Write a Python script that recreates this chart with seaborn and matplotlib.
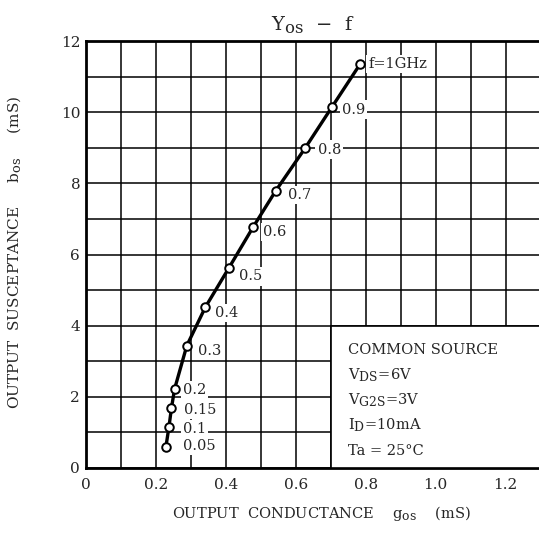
import numpy as np
import pandas as pd
import seaborn as sns
import matplotlib.pyplot as plt
import matplotlib._mathtext as mathtext_mod
from matplotlib.patches import Rectangle

# values
freq_labels = ["f=1GHz", "0.9", "0.8", "0.7", "0.6", "0.5", "0.4", "0.3", "0.2", "0.15", "0.1", "0.05"]
g_os = [0.784, 0.704, 0.627, 0.543, 0.479, 0.409, 0.342, 0.289, 0.254, 0.245, 0.238, 0.229]
b_os = [11.35, 10.15, 8.99, 7.79, 6.78, 5.62, 4.52, 3.44, 2.22, 1.68, 1.16, 0.58]
conditions = ["COMMON SOURCE", r"V$_{DS}$=6V", r"V$_{G2S}$=3V",
              r"I$_{D}$=10mA", "Ta = 25°C"]

# label offsets in points (dx, dy), only for placement
label_offsets = [(6, 0), (7, -2), (9, -1), (9, -3), (7, -4), (7, -6), (7, -4), (8, -4),
                 (6, -1), (9, -1), (10, -2), (12, 1)]

df = pd.DataFrame({"f": freq_labels, "g": g_os, "b": b_os})

# subscripts in the original are printed almost full size
mathtext_mod.SHRINK_FACTOR = 0.85

sns.set_style("white")
plt.rcParams["font.family"] = ["DejaVu Serif"]
plt.rcParams["mathtext.default"] = "regular"
plt.rcParams["mathtext.fontset"] = "dejavuserif"

fig = plt.figure(figsize=(5.39, 5.33), dpi=100)
ax = fig.add_axes([0.159, 0.122, 0.844, 0.801])

sns.lineplot(data=df, x="g", y="b", sort=False, color="black", lw=2.4, ax=ax, zorder=4)
sns.scatterplot(data=df, x="g", y="b", color="white", edgecolor="black", linewidth=1.4,
                s=38, ax=ax, zorder=5)

for (lab, gx, by), (dx, dy) in zip(zip(freq_labels, g_os, b_os), label_offsets):
    ax.annotate(lab, (gx, by), xytext=(dx, dy), textcoords="offset points",
                ha="left", va="center", fontsize=10.5, zorder=6,
                bbox=dict(boxstyle="square,pad=0.15", fc="white", ec="none"))

# condition box
ax.add_patch(Rectangle((0.7, 0), 0.6, 4, facecolor="white", edgecolor="black", lw=1.2, zorder=3))
for i, line in enumerate(conditions):
    ax.text(0.749, 3.2 - i * 0.71, line, fontsize=10.5, va="baseline", ha="left", zorder=6)

ax.set_xlim(0, 1.3)
ax.set_ylim(0, 12)
ax.set_xticks(np.arange(0, 1.21, 0.2))
ax.set_xticklabels(["0", "0.2", "0.4", "0.6", "0.8", "1.0", "1.2"])
ax.set_yticks(np.arange(0, 13, 2))
ax.set_xticks(np.arange(0, 1.31, 0.1), minor=True)
ax.set_yticks(np.arange(0, 13, 1), minor=True)
ax.grid(which="both", color="black", lw=1.1)
ax.tick_params(which="both", length=0, labelsize=11)
ax.tick_params(axis="x", pad=7)
ax.tick_params(axis="y", pad=4)
for sp in ax.spines.values():
    sp.set_color("black")
    sp.set_linewidth(2)

ax.set_title(r"Y$_{os}$  −  f", fontsize=14, pad=8)
ax.set_xlabel(r"OUTPUT  CONDUCTANCE    g$_{os}$    (mS)", fontsize=10.5)
ax.set_ylabel(r"OUTPUT  SUSCEPTANCE     b$_{os}$     (mS)", fontsize=11)
ax.xaxis.set_label_coords(0.519, -0.085)
ax.yaxis.set_label_coords(-0.138, 0.506)

fig.savefig("out.png", dpi=100)
